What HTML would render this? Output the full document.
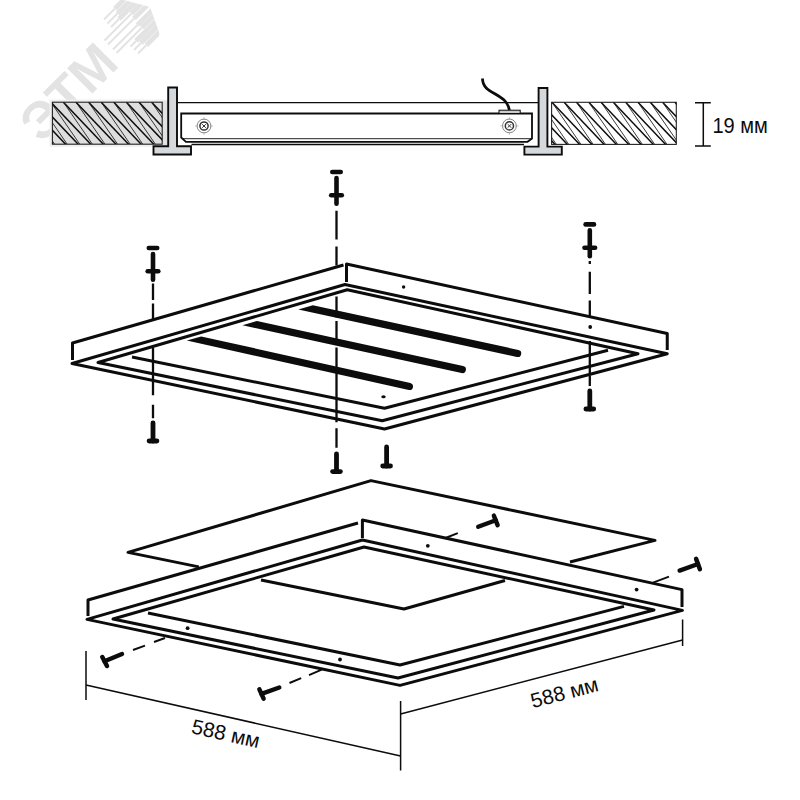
<!DOCTYPE html>
<html lang="ru"><head><meta charset="utf-8"><title>588 мм</title>
<style>html,body{margin:0;padding:0;background:#fff}body{width:800px;height:800px;overflow:hidden}svg{display:block}text{font-family:"Liberation Sans",sans-serif}</style></head><body>
<svg width="800" height="800" viewBox="0 0 800 800">
<rect width="800" height="800" fill="#fff"/>
<g fill="#e3e3e3" stroke="none">
<text x="41.5" y="144.5" font-size="52" font-weight="bold" transform="rotate(-45 41.5 144.5)">ЭТМ</text>
</g>
<clipPath id="lg"><path d="M90,-5L121.5,-0.6L150,7L159.2,32.5L159.2,70L90,70Z"/></clipPath>
<g stroke="#e3e3e3" fill="none" clip-path="url(#lg)">
<path d="M104.0,19.5L115.0,8.5" stroke-width="2"/>
<path d="M115.0,8.5L129.2,-5.7" stroke-width="4.9"/>
<path d="M107.5,23.5L117.5,13.5" stroke-width="2"/>
<path d="M117.5,13.5L135.2,-4.2" stroke-width="4.9"/>
<path d="M111.0,27.0L119.0,19.0" stroke-width="2"/>
<path d="M119.0,19.0L140.8,-2.8" stroke-width="4.9"/>
<path d="M104.5,40.5L131.5,13.5" stroke-width="2"/>
<path d="M131.5,13.5L146.4,-1.4" stroke-width="4.9"/>
<path d="M108.0,44.5L134.0,18.5" stroke-width="2"/>
<path d="M134.0,18.5L152.4,0.1" stroke-width="4.9"/>
<path d="M113.0,49.5L137.5,25.0" stroke-width="2"/>
<path d="M137.5,25.0L157.5,5.0" stroke-width="4.9"/>
<path d="M116.5,53.0L142.0,27.5" stroke-width="2"/>
<path d="M142.0,27.5L159.3,10.2" stroke-width="4.9"/>
<path d="M130.5,46.5L136.0,41.0" stroke-width="2"/>
<path d="M136.0,41.0L161.3,15.7" stroke-width="4.9"/>
<path d="M134.0,50.0L141.0,43.0" stroke-width="2"/>
<path d="M141.0,43.0L163.1,20.9" stroke-width="4.9"/>
<path d="M138.0,53.5L146.5,45.0" stroke-width="2"/>
<path d="M146.5,45.0L165.1,26.4" stroke-width="4.9"/>
</g>
<rect x="49.5" y="99.5" width="118" height="47.5" fill="#f0f0f0"/>
<rect x="162" y="101" width="6.5" height="45" fill="#e2e2e2"/>
<clipPath id="h1"><rect x="52.4" y="102.2" width="109.79999999999998" height="41.999999999999986"/></clipPath>
<rect x="52.4" y="102.2" width="109.79999999999998" height="41.999999999999986" fill="#dedede" stroke="#222" stroke-width="1.1"/>
<g clip-path="url(#h1)" fill="none">
<path d="M0.4,102.2L40.4,144.2" stroke="#0c0c0c" stroke-width="1.5"/>
<path d="M0.4,102.2L29.4,144.2" stroke="#222" stroke-width="0.9"/>
<path d="M13.0,102.2L53.0,144.2" stroke="#0c0c0c" stroke-width="1.5"/>
<path d="M13.0,102.2L42.0,144.2" stroke="#222" stroke-width="0.9"/>
<path d="M25.6,102.2L65.6,144.2" stroke="#0c0c0c" stroke-width="1.5"/>
<path d="M25.6,102.2L54.6,144.2" stroke="#222" stroke-width="0.9"/>
<path d="M38.2,102.2L78.2,144.2" stroke="#0c0c0c" stroke-width="1.5"/>
<path d="M38.2,102.2L67.2,144.2" stroke="#222" stroke-width="0.9"/>
<path d="M50.8,102.2L90.8,144.2" stroke="#0c0c0c" stroke-width="1.5"/>
<path d="M50.8,102.2L79.8,144.2" stroke="#222" stroke-width="0.9"/>
<path d="M63.4,102.2L103.4,144.2" stroke="#0c0c0c" stroke-width="1.5"/>
<path d="M63.4,102.2L92.4,144.2" stroke="#222" stroke-width="0.9"/>
<path d="M76.0,102.2L116.0,144.2" stroke="#0c0c0c" stroke-width="1.5"/>
<path d="M76.0,102.2L105.0,144.2" stroke="#222" stroke-width="0.9"/>
<path d="M88.6,102.2L128.6,144.2" stroke="#0c0c0c" stroke-width="1.5"/>
<path d="M88.6,102.2L117.6,144.2" stroke="#222" stroke-width="0.9"/>
<path d="M101.2,102.2L141.2,144.2" stroke="#0c0c0c" stroke-width="1.5"/>
<path d="M101.2,102.2L130.2,144.2" stroke="#222" stroke-width="0.9"/>
<path d="M113.8,102.2L153.8,144.2" stroke="#0c0c0c" stroke-width="1.5"/>
<path d="M113.8,102.2L142.8,144.2" stroke="#222" stroke-width="0.9"/>
<path d="M126.4,102.2L166.4,144.2" stroke="#0c0c0c" stroke-width="1.5"/>
<path d="M126.4,102.2L155.4,144.2" stroke="#222" stroke-width="0.9"/>
<path d="M139.0,102.2L179.0,144.2" stroke="#0c0c0c" stroke-width="1.5"/>
<path d="M139.0,102.2L168.0,144.2" stroke="#222" stroke-width="0.9"/>
<path d="M151.6,102.2L191.6,144.2" stroke="#0c0c0c" stroke-width="1.5"/>
<path d="M151.6,102.2L180.6,144.2" stroke="#222" stroke-width="0.9"/>
</g>
<clipPath id="h2"><rect x="551.6" y="102.3" width="124.69999999999993" height="42.10000000000001"/></clipPath>
<rect x="551.6" y="102.3" width="124.69999999999993" height="42.10000000000001" fill="#fff" stroke="#222" stroke-width="1.1"/>
<g clip-path="url(#h2)" fill="none">
<path d="M502.8,102.3L542.8,144.4" stroke="#0c0c0c" stroke-width="1.5"/>
<path d="M502.8,102.3L531.8,144.4" stroke="#222" stroke-width="0.9"/>
<path d="M515.1,102.3L555.1,144.4" stroke="#0c0c0c" stroke-width="1.5"/>
<path d="M515.1,102.3L544.1,144.4" stroke="#222" stroke-width="0.9"/>
<path d="M527.4,102.3L567.4,144.4" stroke="#0c0c0c" stroke-width="1.5"/>
<path d="M527.4,102.3L556.4,144.4" stroke="#222" stroke-width="0.9"/>
<path d="M539.7,102.3L579.7,144.4" stroke="#0c0c0c" stroke-width="1.5"/>
<path d="M539.7,102.3L568.7,144.4" stroke="#222" stroke-width="0.9"/>
<path d="M552.0,102.3L592.0,144.4" stroke="#0c0c0c" stroke-width="1.5"/>
<path d="M552.0,102.3L581.0,144.4" stroke="#222" stroke-width="0.9"/>
<path d="M564.2,102.3L604.2,144.4" stroke="#0c0c0c" stroke-width="1.5"/>
<path d="M564.2,102.3L593.2,144.4" stroke="#222" stroke-width="0.9"/>
<path d="M576.5,102.3L616.5,144.4" stroke="#0c0c0c" stroke-width="1.5"/>
<path d="M576.5,102.3L605.5,144.4" stroke="#222" stroke-width="0.9"/>
<path d="M588.8,102.3L628.8,144.4" stroke="#0c0c0c" stroke-width="1.5"/>
<path d="M588.8,102.3L617.8,144.4" stroke="#222" stroke-width="0.9"/>
<path d="M601.1,102.3L641.1,144.4" stroke="#0c0c0c" stroke-width="1.5"/>
<path d="M601.1,102.3L630.1,144.4" stroke="#222" stroke-width="0.9"/>
<path d="M613.4,102.3L653.4,144.4" stroke="#0c0c0c" stroke-width="1.5"/>
<path d="M613.4,102.3L642.4,144.4" stroke="#222" stroke-width="0.9"/>
<path d="M625.7,102.3L665.7,144.4" stroke="#0c0c0c" stroke-width="1.5"/>
<path d="M625.7,102.3L654.7,144.4" stroke="#222" stroke-width="0.9"/>
<path d="M638.0,102.3L678.0,144.4" stroke="#0c0c0c" stroke-width="1.5"/>
<path d="M638.0,102.3L667.0,144.4" stroke="#222" stroke-width="0.9"/>
<path d="M650.3,102.3L690.3,144.4" stroke="#0c0c0c" stroke-width="1.5"/>
<path d="M650.3,102.3L679.3,144.4" stroke="#222" stroke-width="0.9"/>
<path d="M662.6,102.3L702.6,144.4" stroke="#0c0c0c" stroke-width="1.5"/>
<path d="M662.6,102.3L691.6,144.4" stroke="#222" stroke-width="0.9"/>
<path d="M674.9,102.3L714.9,144.4" stroke="#0c0c0c" stroke-width="1.5"/>
<path d="M674.9,102.3L703.9,144.4" stroke="#222" stroke-width="0.9"/>
</g>
<g fill="none" stroke="#0c0c0c">
<path d="M177.5,102.6H538" stroke-width="1.3"/>
<path d="M191.5,144.5H524" stroke-width="1.5"/>
<path d="M532,138.5V113.5H181.2V137.5L186,141.8H527.5Z" stroke-width="1.8" fill="#fff"/>
<path d="M183,138.7H531" stroke-width="0.9"/>
</g>
<rect x="499" y="110.2" width="21.2" height="3.3" fill="#ccc" stroke="#0c0c0c" stroke-width="1"/>
<path d="M482.5,78.5C482.5,95 506,92 509.4,110" fill="none" stroke="#0c0c0c" stroke-width="2.8"/>
<g fill="none" stroke="#333"><circle cx="204" cy="126" r="6.9" stroke-width="0.8" stroke="#666"/><circle cx="204" cy="126" r="4.1" stroke-width="1.5"/><path d="M202.2,124.2l3.6,3.6M202.2,127.8l3.6,-3.6" stroke-width="1"/><path d="M195,126h3M210,126h3M204,117v3M204,132v3" stroke-width="0.6" stroke="#999"/></g>
<g fill="none" stroke="#333"><circle cx="509.4" cy="125.9" r="6.9" stroke-width="0.8" stroke="#666"/><circle cx="509.4" cy="125.9" r="4.1" stroke-width="1.5"/><path d="M507.59999999999997,124.10000000000001l3.6,3.6M507.59999999999997,127.7l3.6,-3.6" stroke-width="1"/><path d="M500.4,125.9h3M515.4,125.9h3M509.4,116.9v3M509.4,131.9v3" stroke-width="0.6" stroke="#999"/></g>
<path d="M168.2,87.5H177V146.2H191V154.5H153.5V146.2H168.2Z" fill="#d6d9db" stroke="#0c0c0c" stroke-width="1.9" stroke-linejoin="miter"/>
<path d="M538.6,88H547.4V146.6H561.8V154.6H524.4V146.6H538.6Z" fill="#d6d9db" stroke="#0c0c0c" stroke-width="1.9" stroke-linejoin="miter"/>
<g stroke="#0c0c0c" stroke-width="1.5" fill="none"><path d="M703.3,102.8V146M695,102.8H710.8M695,146H710.8"/></g>
<text x="712.4" y="132.8" font-size="21.4" textLength="55.4" lengthAdjust="spacingAndGlyphs" fill="#0c0c0c">19 мм</text>
<g fill="none" stroke="#0c0c0c" stroke-width="3" stroke-linejoin="round" stroke-linecap="butt">
<path d="M72.5,360V343L343.5,265"/>
<path d="M346.5,282V264L667.25,333.5V350"/>
<path d="M72,363.5L345,284.5L667.25,353.75L384.5,429Z"/>
<path d="M98,362.5L347.25,289.75L638,353.75L382.25,420.75Z"/>
<path d="M132,357L384.5,408.3L608,350.2"/>
</g>
<path d="M298.34,309.41L516.84,356.92A3.6,3.6 0 0 0 518.36,349.88L312.86,305.19Z" fill="#0c0c0c"/>
<path d="M242.51,325.20L461.53,373.12A3.6,3.6 0 0 0 463.07,366.08L256.99,321.00Z" fill="#0c0c0c"/>
<path d="M186.81,340.59L408.82,390.01A3.6,3.6 0 0 0 410.38,382.99L201.19,336.41Z" fill="#0c0c0c"/>
<circle cx="403.6" cy="287" r="1.7" fill="#0c0c0c"/>
<circle cx="590.2" cy="327" r="1.9" fill="#0c0c0c"/>
<ellipse cx="383.5" cy="396.8" rx="2.2" ry="1.5" fill="#0c0c0c"/>
<g stroke="#0c0c0c" stroke-width="4.6" stroke-linecap="round" fill="none"><path d="M332.3,172H340.7"/><path d="M336.5,178V203.8"/><path d="M331.2,195.3H341.8"/></g>
<path d="M336.5,210.7V239.6M336.5,246.6V265.5M336.5,296.5V317.5M336.5,321V344.5M336.5,347.5V422.3M336.5,428.2V447.8" stroke="#0c0c0c" stroke-width="2.3" fill="none"/>
<g stroke="#0c0c0c" stroke-width="4.8" stroke-linecap="round" fill="none"><path d="M336.5,454V471.6"/><path d="M332.6,471.6H340.4"/></g>
<g stroke="#0c0c0c" stroke-width="4.6" stroke-linecap="round" fill="none"><path d="M148.8,248H157.2"/><path d="M153,254V279.8"/><path d="M147.7,271.3H158.3"/></g>
<path d="M153,283.5V300M153,303.5V319M153,348V395.3M153,404.7V418.3" stroke="#0c0c0c" stroke-width="2.3" fill="none"/>
<g stroke="#0c0c0c" stroke-width="4.8" stroke-linecap="round" fill="none"><path d="M153,423V441"/><path d="M149.1,441H156.9"/></g>
<g stroke="#0c0c0c" stroke-width="4.6" stroke-linecap="round" fill="none"><path d="M585.5999999999999,224.4H594.0"/><path d="M589.8,230.4V256.2"/><path d="M584.5,247.70000000000002H595.0999999999999"/></g>
<path d="M589.8,261V264M589.8,271.7V294M589.8,300.5V316.5M589.8,341V373M589.8,375.5V386" stroke="#0c0c0c" stroke-width="2.3" fill="none"/>
<g stroke="#0c0c0c" stroke-width="4.8" stroke-linecap="round" fill="none"><path d="M589.8,391V409"/><path d="M585.9,409H593.6999999999999"/></g>
<g stroke="#0c0c0c" stroke-width="4.8" stroke-linecap="round" fill="none"><path d="M386.6,447V466"/><path d="M382.70000000000005,466H390.5"/></g>
<g fill="none" stroke="#0c0c0c" stroke-width="3" stroke-linejoin="round">
<path d="M198.8,566.9L128,552.4L371,480.6L655,540.4L570,562"/>
<path d="M261,580L404,609L505,580.5"/>
<path d="M88,616V600L358,523"/>
<path d="M362.4,538V520L682,589.6V607"/>
<path d="M87,619.4L362.4,540L682.4,610.4L400,685.4Z"/>
<path d="M113,619L364,547L654,610L398,678Z"/>
<path d="M148,613L400,665L624,606.4"/>
</g>
<circle cx="187.6" cy="628.2" r="1.9" fill="#0c0c0c"/>
<circle cx="340" cy="659.5" r="1.9" fill="#0c0c0c"/>
<circle cx="427.8" cy="545.8" r="1.9" fill="#0c0c0c"/>
<circle cx="636.6" cy="589.6" r="1.9" fill="#0c0c0c"/>
<g stroke="#0c0c0c" stroke-linecap="round" fill="none"><path d="M122,654L104.5,661.3" stroke-width="4.4"/><path d="M102.3,657L107,666" stroke-width="4.5"/></g>
<path d="M133,650L145,645.6M154,642L165,638" stroke="#0c0c0c" stroke-width="1.9" fill="none"/>
<g stroke="#0c0c0c" stroke-linecap="round" fill="none"><path d="M279.3,687.5L261.5,693.9" stroke-width="4.4"/><path d="M259.4,689.4L263.6,698.6" stroke-width="4.5"/></g>
<path d="M289.5,683L301.2,678.2M309,675.2L321.7,669.7" stroke="#0c0c0c" stroke-width="1.9" fill="none"/>
<g stroke="#0c0c0c" stroke-linecap="round" fill="none"><path d="M478.2,526.75L495.75,520.2" stroke-width="4.4"/><path d="M493.9,515.7L497.6,525.1" stroke-width="4.5"/></g>
<path d="M445.5,538L457.8,533.2" stroke="#0c0c0c" stroke-width="1.9" fill="none"/>
<g stroke="#0c0c0c" stroke-linecap="round" fill="none"><path d="M679.6,570.6L698,564" stroke-width="4.4"/><path d="M696.1,558.9L699.9,569.2" stroke-width="4.5"/></g>
<path d="M653,582.6L669,576.6" stroke="#0c0c0c" stroke-width="1.9" fill="none"/>
<g stroke="#0c0c0c" stroke-width="1.5" fill="none">
<path d="M86,651V700M400.6,701V770.4M682.6,619.5V646"/>
<path d="M86,685L400.6,756M400.6,714L682.6,640"/>
</g>
<text x="0" y="0" font-size="20.8" fill="#0c0c0c" transform="translate(190.5,733) rotate(12.7)">588 мм</text>
<text x="0" y="0" font-size="20.8" fill="#0c0c0c" transform="translate(532.8,708.2) rotate(-14.7)">588 мм</text>
</svg></body></html>
